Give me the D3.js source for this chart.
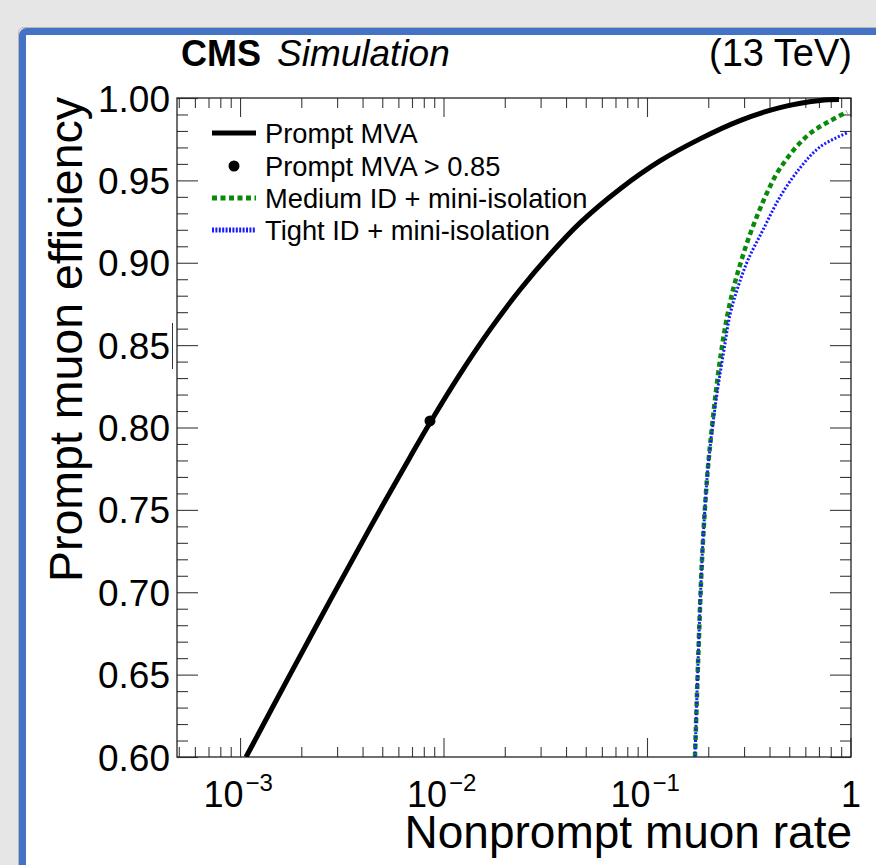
<!DOCTYPE html>
<html>
<head>
<meta charset="utf-8">
<script src="https://cdn.jsdelivr.net/npm/d3@7"></script>
<style>
  html, body { margin: 0; padding: 0; background: #e6e6e6; }
  svg { display: block; }
  text { font-family: "Liberation Sans", Arial, Helvetica, sans-serif; fill: #000; }
</style>
</head>
<body>
<svg id="chart" width="876" height="865"></svg>
<script>
// ---------------- data ----------------
const mvaRate = [0.0010703, 0.001761, 0.002768, 0.004353, 0.006845, 0.008583, 0.012051, 0.016925, 0.023763, 0.033373, 0.046853, 0.073677, 0.11584, 0.18219, 0.28642, 0.45027, 0.70816, 0.87803];
const mvaEff  = [0.6000, 0.6500, 0.6949, 0.7391, 0.7820, 0.8029, 0.8324, 0.8594, 0.8836, 0.9051, 0.9242, 0.9448, 0.9618, 0.9752, 0.9863, 0.9942, 0.9985, 0.9991];

const wpRate = [0.00858];
const wpEff  = [0.804];

const mediumRate = [0.17214, 0.17910, 0.18634, 0.19386, 0.19943, 0.20866, 0.21955, 0.23232, 0.24584, 0.26461, 0.28642, 0.31355, 0.34914, 0.38441, 0.43034, 0.48196, 0.55228, 0.64672, 0.77502, 0.96116];
const mediumEff  = [0.6000, 0.6650, 0.7196, 0.7560, 0.7760, 0.8003, 0.8246, 0.8470, 0.8652, 0.8835, 0.8986, 0.9138, 0.9290, 0.9411, 0.9533, 0.9624, 0.9715, 0.9794, 0.9854, 0.9915];

const tightRate = [0.17214, 0.17910, 0.18634, 0.19386, 0.19943, 0.20985, 0.22330, 0.23894, 0.25575, 0.28002, 0.31355, 0.37155, 0.45027, 0.56464, 0.70816, 0.96116];
const tightEff  = [0.6000, 0.6650, 0.7196, 0.7560, 0.7760, 0.8003, 0.8246, 0.8470, 0.8683, 0.8853, 0.9017, 0.9199, 0.9399, 0.9575, 0.9703, 0.9788];

const xMajorTicks = [0.001, 0.01, 0.1, 1];
const xTickBase   = ["10", "10", "10", "1"];
const xTickExp    = ["\u22123", "\u22122", "\u22121", ""];
const yMajorTicks = [0.60, 0.65, 0.70, 0.75, 0.80, 0.85, 0.90, 0.95, 1.00];
const yTickLabels = ["0.60", "0.65", "0.70", "0.75", "0.80", "0.85", "0.90", "0.95", "1.00"];

const legendLabels = ["Prompt MVA", "Prompt MVA > 0.85", "Medium ID + mini-isolation", "Tight ID + mini-isolation"];

// ---------------- layout ----------------
const svg = d3.select("#chart");
const L = 177, R = 851, T = 98, B = 757;

svg.append("rect").attr("x", 0).attr("y", 0).attr("width", 876).attr("height", 865).attr("fill", "#e6e6e6");
svg.append("rect").attr("x", 18.5).attr("y", 27.5).attr("width", 900).attr("height", 900).attr("rx", 5)
  .attr("fill", "none").attr("stroke", "#b8b8b8").attr("stroke-width", 1);
svg.append("rect").attr("x", 22.5).attr("y", 31.5).attr("width", 900).attr("height", 900).attr("rx", 4)
  .attr("fill", "#ffffff").attr("stroke", "#4472c4").attr("stroke-width", 7);

const x = d3.scaleLog().domain([4.9e-4, 1.006]).range([L, R]);
const y = d3.scaleLinear().domain([0.6, 1.0]).range([B, T]);

// minor ticks
const xMinorTicks = [];
[1e-4, 1e-3, 1e-2, 1e-1].forEach(d => { for (let k = 2; k <= 9; k++) { const v = d * k; if (v >= x.domain()[0] && v <= x.domain()[1]) xMinorTicks.push(v); } });
const yMinorTicks = d3.range(60, 101).map(v => v / 100).filter(v => Math.round(v * 100) % 5 !== 0);

const tickColor = "#3a3a3a";
function styleAxis(g) {
  g.select(".domain").remove();
  g.selectAll(".tick line").attr("stroke", tickColor).attr("stroke-width", 1.1);
}

// bottom axis
svg.append("g").attr("transform", `translate(0,${B})`)
  .call(d3.axisBottom(x).tickValues(xMinorTicks).tickSize(-10).tickFormat(""))
  .call(styleAxis);
const xb = svg.append("g").attr("transform", `translate(0,${B})`)
  .call(d3.axisBottom(x).tickValues(xMajorTicks).tickSize(-19).tickFormat(""))
  .call(styleAxis);
xb.selectAll(".tick").each(function(d, i) {
  const g = d3.select(this);
  if (xTickExp[i]) {
    g.append("text").attr("x", 3).attr("y", 50).attr("text-anchor", "end")
      .style("font-size", "36px").text(xTickBase[i]);
    g.append("text").attr("x", 5).attr("y", 34).attr("text-anchor", "start")
      .style("font-size", "24px").text(xTickExp[i]);
  } else {
    g.append("text").attr("x", 0).attr("y", 50).attr("text-anchor", "middle")
      .style("font-size", "36px").text(xTickBase[i]);
  }
});
// top axis
svg.append("g").attr("transform", `translate(0,${T})`)
  .call(d3.axisTop(x).tickValues(xMinorTicks).tickSize(-10).tickFormat(""))
  .call(styleAxis);
svg.append("g").attr("transform", `translate(0,${T})`)
  .call(d3.axisTop(x).tickValues(xMajorTicks).tickSize(-19).tickFormat(""))
  .call(styleAxis);

// left axis
svg.append("g").attr("transform", `translate(${L},0)`)
  .call(d3.axisLeft(y).tickValues(yMinorTicks).tickSize(-11).tickFormat(""))
  .call(styleAxis);
const yl = svg.append("g").attr("transform", `translate(${L},0)`)
  .call(d3.axisLeft(y).tickValues(yMajorTicks).tickSize(-21).tickFormat((d, i) => yTickLabels[i]))
  .call(styleAxis);
yl.selectAll(".tick text").attr("x", -7).attr("dy", null).attr("y", 13)
  .attr("fill", "#000").style("font-size", "37px")
  .style("font-family", "'Liberation Sans', Arial, sans-serif");
// right axis
svg.append("g").attr("transform", `translate(${R},0)`)
  .call(d3.axisRight(y).tickValues(yMinorTicks).tickSize(-11).tickFormat(""))
  .call(styleAxis);
svg.append("g").attr("transform", `translate(${R},0)`)
  .call(d3.axisRight(y).tickValues(yMajorTicks).tickSize(-21).tickFormat(""))
  .call(styleAxis);

// frame
svg.append("rect").attr("x", L).attr("y", T).attr("width", R - L).attr("height", B - T)
  .attr("fill", "none").attr("stroke", "#222").attr("stroke-width", 1.3);

// clip
svg.append("clipPath").attr("id", "plotclip").append("rect")
  .attr("x", L).attr("y", T - 4).attr("width", R - L).attr("height", B - T + 4);

const line = d3.line().x(d => x(d[0])).y(d => y(d[1])).curve(d3.curveCatmullRom.alpha(0.5));
const plot = svg.append("g").attr("clip-path", "url(#plotclip)");

plot.append("path").datum(d3.zip(mediumRate, mediumEff)).attr("d", line)
  .attr("fill", "none").attr("stroke", "#0a8a0a").attr("stroke-width", 4.5)
  .attr("stroke-dasharray", "5,3.5");
plot.append("path").datum(d3.zip(tightRate, tightEff)).attr("d", line)
  .attr("fill", "none").attr("stroke", "#1a1aff").attr("stroke-width", 3)
  .attr("stroke-dasharray", "2,1.8");
plot.append("path").datum(d3.zip(mvaRate, mvaEff)).attr("d", line)
  .attr("fill", "none").attr("stroke", "#000").attr("stroke-width", 5)
  .attr("stroke-linejoin", "round");
plot.selectAll("circle.wp").data(d3.zip(wpRate, wpEff)).join("circle")
  .attr("class", "wp").attr("cx", d => x(d[0])).attr("cy", d => y(d[1])).attr("r", 5.5).attr("fill", "#000");

// legend
const legY = [133, 166, 198, 230];
const lg = svg.append("g");
lg.append("line").attr("x1", 212).attr("x2", 256).attr("y1", legY[0]).attr("y2", legY[0]).attr("stroke", "#000").attr("stroke-width", 5);
lg.append("circle").attr("cx", 234).attr("cy", legY[1]).attr("r", 5.5).attr("fill", "#000");
lg.append("line").attr("x1", 212).attr("x2", 256).attr("y1", legY[2]).attr("y2", legY[2]).attr("stroke", "#0a8a0a").attr("stroke-width", 5).attr("stroke-dasharray", "5,3.5");
lg.append("line").attr("x1", 212).attr("x2", 256).attr("y1", legY[3]).attr("y2", legY[3]).attr("stroke", "#1a1aff").attr("stroke-width", 5).attr("stroke-dasharray", "2,1.4");
legendLabels.forEach((s, i) => {
  lg.append("text").attr("x", 265).attr("y", legY[i] + 10).style("font-size", "27.3px").text(s);
});

// titles
svg.append("text").attr("x", 181).attr("y", 66).style("font-size", "36px").style("font-weight", "bold").text("CMS");
svg.append("text").attr("x", 277).attr("y", 66).style("font-size", "37px").style("font-style", "italic").text("Simulation");
svg.append("text").attr("x", 852).attr("y", 66).attr("text-anchor", "end").style("font-size", "38px").text("(13 TeV)");

svg.append("text").attr("x", 852).attr("y", 848).attr("text-anchor", "end").style("font-size", "46px").text("Nonprompt muon rate");
svg.append("text").attr("transform", `translate(82,${T - 1}) rotate(-90)`).attr("text-anchor", "end")
  .style("font-size", "46.5px").text("Prompt muon efficiency");

// small vertical mark near the axis
svg.append("line").attr("x1", 172.5).attr("x2", 172.5).attr("y1", 323).attr("y2", 369).attr("stroke", "#333").attr("stroke-width", 1);
</script>
</body>
</html>
